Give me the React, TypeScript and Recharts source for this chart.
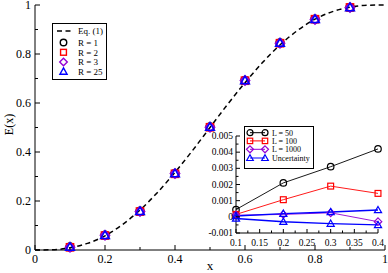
import React from 'react';
import { ComposedChart, LineChart, Line, Scatter, XAxis, YAxis, Legend, Label } from 'recharts';

const FONT = "'Liberation Serif', 'DejaVu Serif', serif";

// ---- main chart data ----
const curveX = [0, 0.05, 0.1, 0.15, 0.2, 0.25, 0.3, 0.35, 0.4, 0.45, 0.5, 0.55, 0.6, 0.65, 0.7, 0.75, 0.8, 0.85, 0.9, 0.95, 1];
const curveY = [0, 0.001, 0.009, 0.027, 0.058, 0.104, 0.163, 0.235, 0.317, 0.406, 0.5, 0.594, 0.683, 0.765, 0.837, 0.896, 0.942, 0.973, 0.991, 0.999, 1];
const pointX = [0.1, 0.2, 0.3, 0.4, 0.5, 0.6, 0.7, 0.8, 0.9];
const r1Y = [0.012, 0.06, 0.158, 0.312, 0.502, 0.692, 0.845, 0.942, 0.99];
const r2Y = [0.011, 0.059, 0.157, 0.311, 0.501, 0.691, 0.844, 0.942, 0.99];
const r3Y = [0.011, 0.06, 0.157, 0.312, 0.501, 0.692, 0.844, 0.941, 0.99];
const r25Y = [0.012, 0.06, 0.158, 0.312, 0.502, 0.692, 0.845, 0.942, 0.99];
const mainMajor = [0, 0.2, 0.4, 0.6, 0.8, 1];
const mainMinor = [0.1, 0.3, 0.5, 0.7, 0.9];
const mainLegend = ['Eq. (1)', 'R = 1', 'R = 2', 'R = 3', 'R = 25'];

// ---- inset data ----
const insetX = [0.1, 0.2, 0.3, 0.4];
const l50 = [0.00045, 0.0021, 0.0031, 0.0042];
const l100 = [0.00015, 0.00106, 0.0019, 0.00145];
const l1000 = [0.0001, 0.00015, 0.00025, -0.0003];
const uncUpper = [0.00005, 0.0002, 0.0003, 0.00042];
const uncLower = [-0.0001, -0.0003, -0.00042, -0.0005];
const insetXMajor = [0.1, 0.15, 0.2, 0.25, 0.3, 0.35, 0.4];
const insetXMinor = [0.125, 0.175, 0.225, 0.275, 0.325, 0.375];
const insetYMajor = [-0.001, 0, 0.001, 0.002, 0.003, 0.004, 0.005];
const insetYMinor = [-0.0005, 0.0005, 0.0015, 0.0025, 0.0035, 0.0045];
const insetLegend = ['L = 50', 'L = 100', 'L = 1000', 'Uncertainty'];

const BLACK = '#000000';
const RED = '#ff0000';
const PURPLE = '#9400d3';
const BLUE = '#0000ff';

const curveData = curveX.map((x, i) => ({ x, y: curveY[i] }));
const toPts = (ys: number[]) => pointX.map((x, i) => ({ x, y: ys[i] }));
const insetData = insetX.map((x, i) => ({
  x,
  l50: l50[i],
  l100: l100[i],
  l1000: l1000[i],
  uu: uncUpper[i],
  ul: uncLower[i],
}));

const sortNum = (a: number[]) => [...a].sort((p, q) => p - q);

// ---- marker shapes ----
type MK = 'circle' | 'square' | 'diamond' | 'triangle';
function marker(kind: MK, cx: number, cy: number, s: number, color: string, sw: number, key?: any) {
  if (kind === 'circle') return <circle key={key} cx={cx} cy={cy} r={s * 0.5} fill="none" stroke={color} strokeWidth={sw} />;
  if (kind === 'square')
    return <rect key={key} x={cx - s * 0.45} y={cy - s * 0.45} width={s * 0.9} height={s * 0.9} fill="none" stroke={color} strokeWidth={sw} />;
  if (kind === 'diamond') {
    const h = s * 0.58;
    return <polygon key={key} points={`${cx},${cy - h} ${cx + h},${cy} ${cx},${cy + h} ${cx - h},${cy}`} fill="none" stroke={color} strokeWidth={sw} />;
  }
  const h = s * 0.55;
  return (
    <polygon
      key={key}
      points={`${cx},${cy - h} ${cx + h},${cy + h * 0.75} ${cx - h},${cy + h * 0.75}`}
      fill="none"
      stroke={color}
      strokeWidth={sw}
    />
  );
}

// ---- tick factory ----
function makeTick(side: 'bottom' | 'top' | 'left' | 'right', majors: number[], len: number, minorLen: number, labels: boolean, fs: number, gap: number) {
  return (props: any) => {
    const { x, y, payload } = props;
    const v = payload.value;
    const major = majors.includes(v);
    const L = major ? len : minorLen;
    let ln: any;
    let tx: any = null;
    if (side === 'bottom') {
      ln = <line x1={x} y1={y} x2={x} y2={y - L} stroke="#000" strokeWidth={1} />;
      if (labels && major)
        tx = (
          <text x={x} y={y + gap} textAnchor="middle" fontFamily={FONT} fontSize={fs} fill="#000">
            {String(v)}
          </text>
        );
    } else if (side === 'top') {
      ln = <line x1={x} y1={y} x2={x} y2={y + L} stroke="#000" strokeWidth={1} />;
    } else if (side === 'left') {
      ln = <line x1={x} y1={y} x2={x + L} y2={y} stroke="#000" strokeWidth={1} />;
      if (labels && major)
        tx = (
          <text x={x - gap} y={y + fs * 0.33} textAnchor="end" fontFamily={FONT} fontSize={fs} fill="#000">
            {String(v)}
          </text>
        );
    } else {
      ln = <line x1={x} y1={y} x2={x - L} y2={y} stroke="#000" strokeWidth={1} />;
    }
    return (
      <g>
        {ln}
        {tx}
      </g>
    );
  };
}

const mainTicks = sortNum([...mainMajor, ...mainMinor]);
const insetXTicks = sortNum([...insetXMajor, ...insetXMinor]);
const insetYTicks = sortNum([...insetYMajor, ...insetYMinor]);

const MainLegendContent = () => {
  const kinds: (MK | 'dash')[] = ['dash', 'circle', 'square', 'diamond', 'triangle'];
  const colors = [BLACK, BLACK, RED, PURPLE, BLUE];
  const rows = [8, 19.5, 29.3, 39, 48.5];
  return (
    <svg width={55} height={57} style={{ display: 'block' }}>
      <rect x={0.5} y={0.5} width={54} height={56} fill="#fff" stroke="#000" strokeWidth={1} />
      {mainLegend.map((t, i) => (
        <g key={t}>
          {kinds[i] === 'dash' ? (
            <line x1={5} y1={rows[i]} x2={20} y2={rows[i]} stroke="#000" strokeWidth={1.5} strokeDasharray="5 3.5" />
          ) : (
            marker(kinds[i] as MK, 11.5, rows[i], 6.5, colors[i], 1.4)
          )}
          <text x={26} y={rows[i] + 3.2} fontFamily={FONT} fontSize={9} fill="#000">
            {t}
          </text>
        </g>
      ))}
    </svg>
  );
};

const InsetLegendContent = () => {
  const kinds: MK[] = ['circle', 'square', 'diamond', 'triangle'];
  const colors = [BLACK, RED, PURPLE, BLUE];
  const rows = [6.7, 14.9, 23.3, 32];
  return (
    <svg width={70} height={43} style={{ display: 'block' }}>
      <rect x={0.5} y={0.5} width={69} height={42} fill="#fff" stroke="#000" strokeWidth={1} />
      {insetLegend.map((t, i) => (
        <g key={t}>
          <line x1={6} y1={rows[i]} x2={21} y2={rows[i]} stroke={colors[i]} strokeWidth={1} />
          {marker(kinds[i], 6, rows[i], 6, colors[i], 1.2)}
          {marker(kinds[i], 21, rows[i], 6, colors[i], 1.2)}
          <text x={28} y={rows[i] + 2.8} fontFamily={FONT} fontSize={8} fill="#000">
            {t}
          </text>
        </g>
      ))}
    </svg>
  );
};

const XTitle = (p: any) => {
  const vb = p.viewBox || { x: 35, y: 250, width: 350, height: 23 };
  return (
    <text x={vb.x + vb.width / 2} y={vb.y + 20} textAnchor="middle" fontFamily={FONT} fontSize={13} fill="#000">
      x
    </text>
  );
};
const YTitle = (p: any) => {
  const vb = p.viewBox || { x: 0, y: 5, width: 35, height: 245 };
  const cx = vb.x + 9;
  const cy = vb.y + vb.height / 2 - 3;
  return (
    <text x={cx} y={cy + 4} transform={`rotate(-90 ${cx} ${cy})`} textAnchor="middle" fontFamily={FONT} fontSize={12} fill="#000">
      E(x)
    </text>
  );
};

const shapeOf = (kind: MK, color: string) => (p: any) => marker(kind, p.cx, p.cy, 8, color, 1.5);
const dotOf = (kind: MK, color: string) => (p: any) => marker(kind, p.cx, p.cy, 6.5, color, 1.2, p.key ?? `${kind}-${p.index}`);

export default function App() {
  return (
    <div style={{ position: 'absolute', left: 0, top: 0, width: 388, height: 273, background: '#fff' }}>
      <ComposedChart width={388} height={273} margin={{ top: 5, right: 3, left: 0, bottom: 0 }}>
        <XAxis
          dataKey="x"
          type="number"
          domain={[0, 1]}
          ticks={mainTicks}
          interval={0}
          tickLine={false}
          tickSize={0}
          tickMargin={0}
          height={23}
          axisLine={{ stroke: '#000' }}
          tick={makeTick('bottom', mainMajor, 5, 3, true, 12, 13)}
        >
          <Label content={XTitle} />
        </XAxis>
        <XAxis
          xAxisId="top"
          orientation="top"
          type="number"
          domain={[0, 1]}
          ticks={mainTicks}
          interval={0}
          tickLine={false}
          tickSize={0}
          tickMargin={0}
          height={0}
          axisLine={{ stroke: '#000' }}
          tick={makeTick('top', mainMajor, 5, 3, false, 12, 0)}
        />
        <YAxis
          type="number"
          domain={[0, 1]}
          ticks={mainTicks}
          interval={0}
          tickLine={false}
          tickSize={0}
          tickMargin={0}
          width={35}
          axisLine={{ stroke: '#000' }}
          tick={makeTick('left', mainMajor, 5, 3, true, 12, 4)}
        >
          <Label content={YTitle} />
        </YAxis>
        <YAxis
          yAxisId="right"
          orientation="right"
          type="number"
          domain={[0, 1]}
          ticks={mainTicks}
          interval={0}
          tickLine={false}
          tickSize={0}
          tickMargin={0}
          width={0}
          axisLine={{ stroke: '#000' }}
          tick={makeTick('right', mainMajor, 5, 3, false, 12, 0)}
        />
        <Line
          data={curveData}
          dataKey="y"
          type="monotone"
          stroke="#000"
          strokeWidth={1.5}
          strokeDasharray="5 3.5"
          dot={false}
          activeDot={false}
          isAnimationActive={false}
        />
        <Scatter data={toPts(r1Y)} dataKey="y" shape={shapeOf('circle', BLACK)} isAnimationActive={false} />
        <Scatter data={toPts(r2Y)} dataKey="y" shape={shapeOf('square', RED)} isAnimationActive={false} />
        <Scatter data={toPts(r3Y)} dataKey="y" shape={shapeOf('diamond', PURPLE)} isAnimationActive={false} />
        <Scatter data={toPts(r25Y)} dataKey="y" shape={shapeOf('triangle', BLUE)} isAnimationActive={false} />
        <Legend
          layout="vertical"
          align="center"
          verticalAlign="middle"
          content={MainLegendContent}
          wrapperStyle={{ left: 52, top: 23, width: 55, height: 57 }}
        />
      </ComposedChart>

      <div style={{ position: 'absolute', left: 205, top: 126, width: 180, height: 125 }}>
        <LineChart width={180} height={125} data={insetData} margin={{ top: 10, right: 7, left: 0, bottom: 0 }}>
          <XAxis
            dataKey="x"
            type="number"
            domain={[0.1, 0.4]}
            ticks={insetXTicks}
            interval={0}
            tickLine={false}
            tickSize={0}
            tickMargin={0}
            height={18}
            axisLine={{ stroke: '#000' }}
            tick={makeTick('bottom', insetXMajor, 4, 2.5, true, 9.5, 13)}
          />
          <XAxis
            xAxisId="top"
            orientation="top"
            type="number"
            domain={[0.1, 0.4]}
            ticks={insetXTicks}
            interval={0}
            tickLine={false}
            tickSize={0}
            tickMargin={0}
            height={0}
            axisLine={{ stroke: '#000' }}
            tick={makeTick('top', insetXMajor, 4, 2.5, false, 9.5, 0)}
          />
          <YAxis
            type="number"
            domain={[-0.001, 0.005]}
            ticks={insetYTicks}
            interval={0}
            tickLine={false}
            tickSize={0}
            tickMargin={0}
            width={31}
            axisLine={{ stroke: '#000' }}
            tick={makeTick('left', insetYMajor, 4, 2.5, true, 9.5, 3)}
          />
          <YAxis
            yAxisId="right"
            orientation="right"
            type="number"
            domain={[-0.001, 0.005]}
            ticks={insetYTicks}
            interval={0}
            tickLine={false}
            tickSize={0}
            tickMargin={0}
            width={0}
            axisLine={{ stroke: '#000' }}
            tick={makeTick('right', insetYMajor, 4, 2.5, false, 9.5, 0)}
          />
          <Line dataKey="l50" type="linear" stroke={BLACK} strokeWidth={0.9} dot={dotOf('circle', BLACK)} activeDot={false} isAnimationActive={false} />
          <Line dataKey="l100" type="linear" stroke={RED} strokeWidth={0.9} dot={dotOf('square', RED)} activeDot={false} isAnimationActive={false} />
          <Line dataKey="l1000" type="linear" stroke={PURPLE} strokeWidth={0.9} dot={dotOf('diamond', PURPLE)} activeDot={false} isAnimationActive={false} />
          <Line dataKey="uu" type="linear" stroke={BLUE} strokeWidth={1.4} dot={dotOf('triangle', BLUE)} activeDot={false} isAnimationActive={false} />
          <Line dataKey="ul" type="linear" stroke={BLUE} strokeWidth={1.4} dot={dotOf('triangle', BLUE)} activeDot={false} isAnimationActive={false} />
          <Legend
            layout="vertical"
            align="center"
            verticalAlign="middle"
            content={InsetLegendContent}
            wrapperStyle={{ left: 39, top: 0, width: 70, height: 43 }}
          />
        </LineChart>
      </div>
    </div>
  );
}
